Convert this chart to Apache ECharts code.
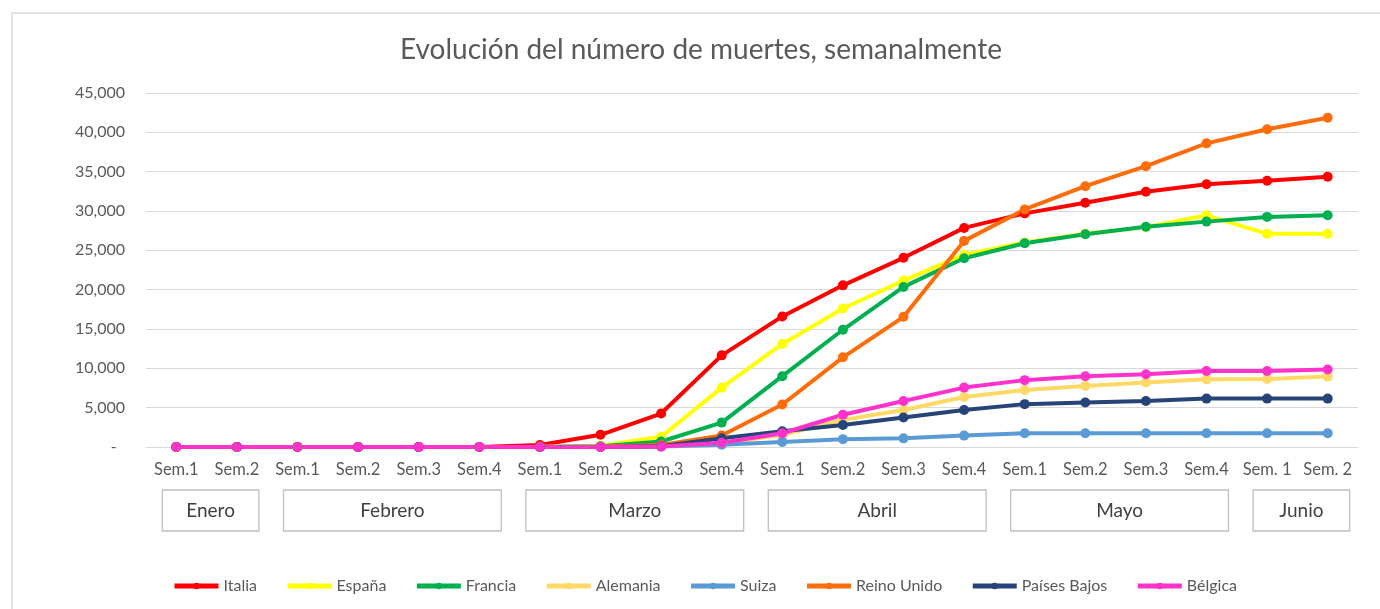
<!DOCTYPE html>
<html>
<head>
<meta charset="utf-8">
<script src="https://cdn.jsdelivr.net/npm/echarts@6/dist/echarts.min.js"></script>
<style>
  html, body { margin: 0; padding: 0; background: #fff; }
  #chart { width: 1380px; height: 609px; }
</style>
</head>
<body>
<div id="chart"></div>
<script>
// semanas (eje X) y meses que las agrupan
const semanas = ['Sem.1', 'Sem.2', 'Sem.1', 'Sem.2', 'Sem.3', 'Sem.4', 'Sem.1', 'Sem.2', 'Sem.3', 'Sem.4',
  'Sem.1', 'Sem.2', 'Sem.3', 'Sem.4', 'Sem.1', 'Sem.2', 'Sem.3', 'Sem.4', 'Sem. 1', 'Sem. 2']
const meses = ['Enero', 'Febrero', 'Marzo', 'Abril', 'Mayo', 'Junio']
const mesInicio = [0, 2, 6, 10, 14, 18]
const mesFin = [1, 5, 9, 13, 17, 19]

const paises = ['Italia', 'España', 'Francia', 'Alemania', 'Suiza', 'Reino Unido', 'Países Bajos', 'Bélgica']
const colores = ['#ff0000', '#ffff00', '#00b050', '#ffd966', '#5b9bd5', '#ff6d0a', '#264478', '#ff33cc']

const italia = [0, 0, 0, 0, 0, 0, 250, 1550, 4250, 11650, 16600, 20550, 24050, 27850, 29700, 31050, 32450, 33400, 33850, 34350]
const espana = [0, 0, 0, 0, 0, 0, 30, 150, 1300, 7550, 13100, 17600, 21150, 24450, 26000, 27100, 27950, 29450, 27100, 27100]
const francia = [0, 0, 0, 0, 0, 0, 20, 100, 700, 3100, 9000, 14900, 20350, 24000, 25900, 27050, 28000, 28650, 29250, 29450]
const alemania = [0, 0, 0, 0, 0, 0, 0, 20, 100, 450, 1550, 3450, 4700, 6350, 7250, 7750, 8200, 8600, 8650, 8950]
const suiza = [0, 0, 0, 0, 0, 0, 0, 10, 50, 300, 650, 1000, 1100, 1450, 1750, 1750, 1750, 1750, 1750, 1750]
const reinoUnido = [0, 0, 0, 0, 0, 0, 0, 20, 250, 1450, 5400, 11400, 16550, 26200, 30200, 33150, 35700, 38600, 40400, 41850]
const paisesBajos = [0, 0, 0, 0, 0, 0, 0, 10, 100, 1100, 2000, 2800, 3750, 4700, 5450, 5650, 5850, 6150, 6150, 6150]
const belgica = [0, 0, 0, 0, 0, 0, 0, 10, 50, 550, 1750, 4100, 5850, 7550, 8500, 9000, 9250, 9650, 9650, 9850]

const valores = [italia, espana, francia, alemania, suiza, reinoUnido, paisesBajos, belgica]

const fuente = 'Lato, "Noto Sans", sans-serif'
const gris = '#595959'

const chart = echarts.init(document.getElementById('chart'))

const option = {
  backgroundColor: '#fff',
  animation: false,
  title: {
    text: 'Evolución del número de muertes, semanalmente',
    left: 395,
    top: 31,
    textStyle: { fontFamily: fuente, fontSize: 28, fontWeight: 'normal', color: gris }
  },
  grid: { left: 146, right: 22, top: 93, bottom: 162 },
  legend: {
    data: paises,
    left: 167,
    top: 573,
    itemWidth: 44,
    itemHeight: 8,
    itemGap: 28,
    lineStyle: { width: 5 },
    textStyle: { fontFamily: fuente, fontSize: 16, color: gris }
  },
  xAxis: {
    type: 'category',
    data: semanas,
    boundaryGap: true,
    axisLine: { lineStyle: { color: '#d9d9d9' } },
    axisTick: { show: false },
    axisLabel: { interval: 0, margin: 14, fontFamily: fuente, fontSize: 16.5, color: gris }
  },
  yAxis: {
    type: 'value',
    min: 0,
    max: 45000,
    interval: 5000,
    axisLine: { show: false },
    axisTick: { show: false },
    splitLine: { lineStyle: { color: '#d9d9d9' } },
    axisLabel: {
      margin: 21,
      fontFamily: fuente,
      fontSize: 16,
      color: gris,
      formatter: (v) => (v === 0 ? '-  ' : v.toLocaleString('en-US'))
    }
  },
  series: paises.map((p, i) => ({
    name: p,
    type: 'line',
    data: valores[i],
    symbol: 'circle',
    symbolSize: 10,
    lineStyle: { width: 4, color: colores[i] },
    itemStyle: { color: colores[i] }
  }))
}

chart.setOption(option)

// cajas con los meses debajo de las semanas
function dibujarMeses() {
  const cajas = meses.map((m, i) => {
    const x0 = chart.convertToPixel({ xAxisIndex: 0 }, mesInicio[i]) - 14
    const x1 = chart.convertToPixel({ xAxisIndex: 0 }, mesFin[i]) + 22
    return {
      type: 'group',
      children: [
        {
          type: 'rect',
          shape: { x: x0, y: 490, width: x1 - x0, height: 41 },
          style: { fill: '#fff', stroke: '#bfbfbf', lineWidth: 1.3 }
        },
        {
          type: 'text',
          x: (x0 + x1) / 2,
          y: 511,
          style: {
            text: m,
            fill: '#404040',
            font: '19px ' + fuente,
            align: 'center',
            verticalAlign: 'middle'
          }
        }
      ]
    }
  })
  chart.setOption({
    graphic: [
      {
        type: 'rect',
        shape: { x: 12, y: 13, width: 1400, height: 700 },
        style: { fill: 'none', stroke: '#d9d9d9', lineWidth: 1.5 },
        silent: true
      }
    ].concat(cajas)
  })
}

dibujarMeses()
</script>
</body>
</html>
